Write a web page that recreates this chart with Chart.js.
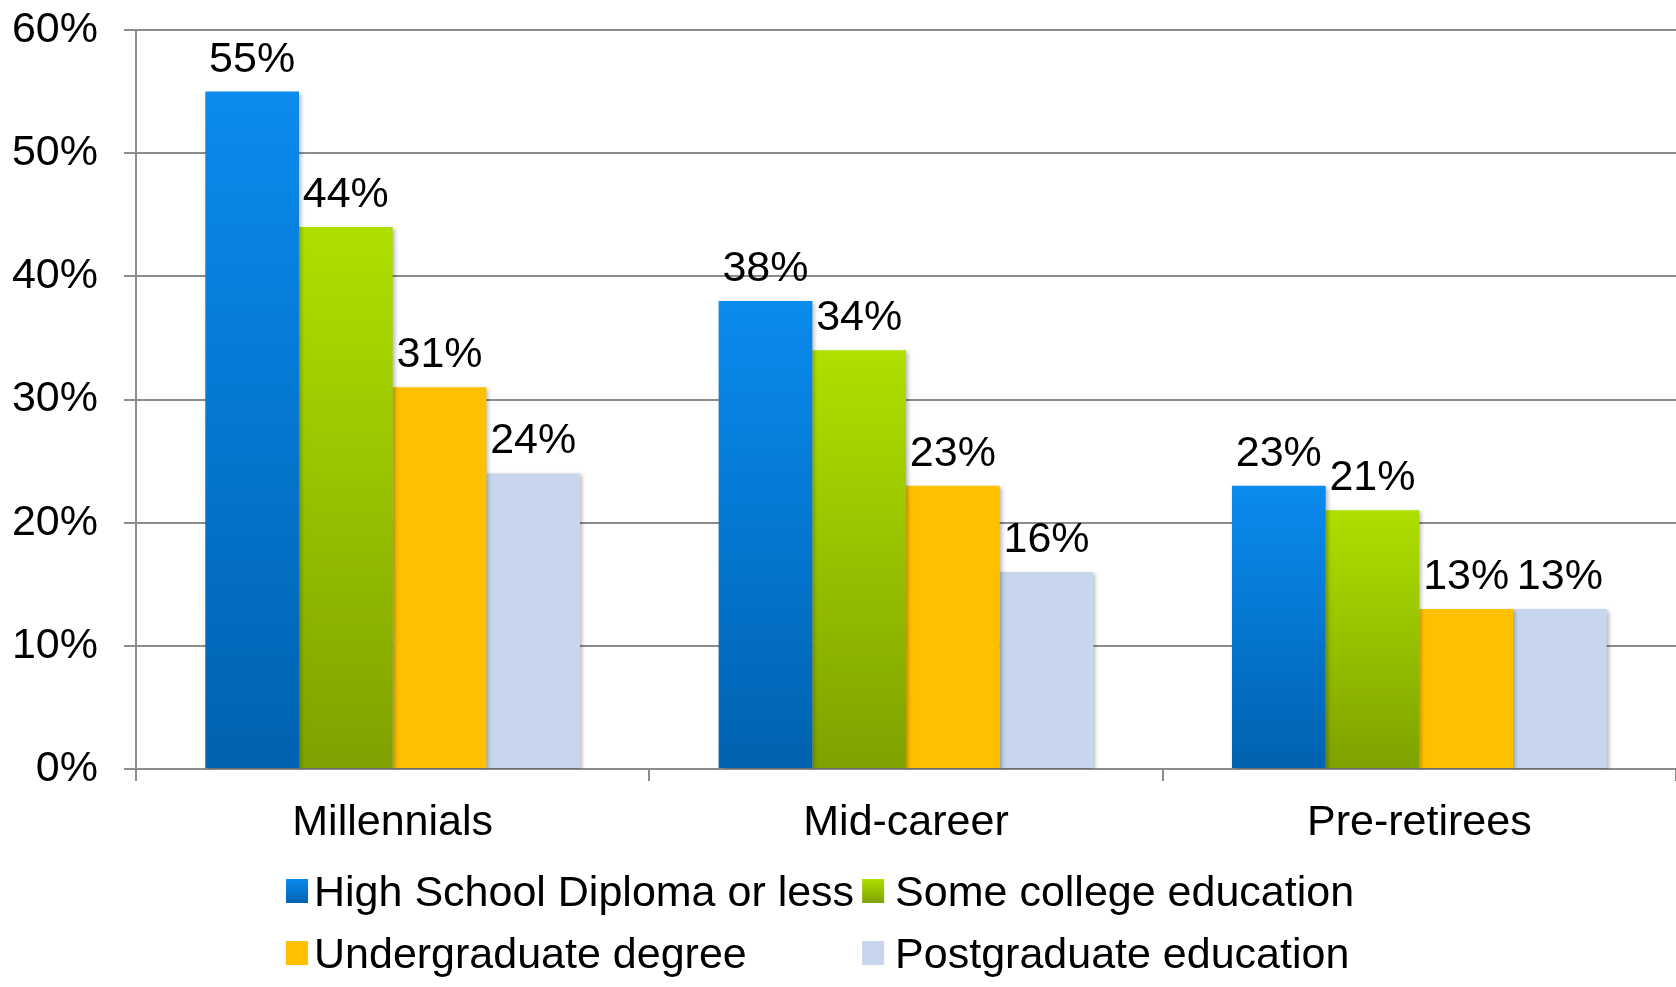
<!DOCTYPE html>
<html>
<head>
<meta charset="utf-8">
<title>Education level by career stage</title>
<script src="https://cdn.jsdelivr.net/npm/chart.js@4/dist/chart.umd.min.js"></script>
<style>
  html, body { margin: 0; padding: 0; background: #fff; }
</style>
</head>
<body>
<canvas id="bar-chart" width="1676" height="987"></canvas>
<script>
// categories, series and y tick values
const groups = ["Millennials", "Mid-career", "Pre-retirees"];
const seriesNames = ["High School Diploma or less", "Some college education", "Undergraduate degree", "Postgraduate education"];
const highSchool = [55, 38, 23];
const someCollege = [44, 34, 21];
const undergrad = [31, 23, 13];
const postgrad = [24, 16, 13];
const yTicks = [0, 10, 20, 30, 40, 50, 60];

// top and bottom colour of each series (flat fills use the same colour twice)
const fills = [
  ["#0a8bee", "#0062b0"],
  ["#aee000", "#7ea200"],
  ["#ffc000", "#ffc000"],
  ["#c7d6ec", "#c7d6ec"]
];
const FAMILY = '"Liberation Sans", Arial, sans-serif';
const FONT = "43px " + FAMILY;
const AXIS_GREY = "#8c8c8c";

function barFill(i) {
  return function (ctx) {
    const chart = ctx.chart;
    if (!chart.chartArea || ctx.type !== "data") return fills[i][0];
    const y = chart.scales.y;
    const g = chart.ctx.createLinearGradient(0, y.getPixelForValue(ctx.raw), 0, y.getPixelForValue(0));
    g.addColorStop(0, fills[i][0]);
    g.addColorStop(1, fills[i][1]);
    return g;
  };
}

// soft drop shadow under the bars
const barShadow = {
  id: "barShadow",
  beforeDatasetsDraw(chart) {
    const c = chart.ctx;
    c.save();
    c.shadowColor = "rgba(0,0,0,0.28)";
    c.shadowBlur = 4;
    c.shadowOffsetX = 2;
    c.shadowOffsetY = 2;
  },
  afterDatasetsDraw(chart) {
    chart.ctx.restore();
  }
};

// percentage written above every bar
const valueLabels = {
  id: "valueLabels",
  afterDatasetsDraw(chart) {
    const c = chart.ctx;
    c.save();
    c.font = FONT;
    c.fillStyle = "#000";
    c.textAlign = "center";
    c.textBaseline = "alphabetic";
    chart.data.datasets.forEach(function (ds, i) {
      chart.getDatasetMeta(i).data.forEach(function (bar, j) {
        c.fillText(ds.data[j] + "%", bar.x, bar.y - 20);
      });
    });
    c.restore();
  }
};

// two-column legend under the axis
const gridLegend = {
  id: "gridLegend",
  afterDraw(chart) {
    const c = chart.ctx;
    const ds = chart.data.datasets;
    c.save();
    c.font = FONT;
    const box = 22, left = 286, baselines = [906, 968];
    const col1 = Math.max(c.measureText(ds[0].label).width, c.measureText(ds[2].label).width);
    const cols = [left, left + box + 6 + col1 + 8];
    ds.forEach(function (d, i) {
      const x = cols[i % 2], base = baselines[Math.floor(i / 2)];
      const gap = i % 2 ? 11 : 6;
      const g = c.createLinearGradient(0, base - 27, 0, base - 3);
      g.addColorStop(0, fills[i][0]);
      g.addColorStop(1, fills[i][1]);
      c.fillStyle = g;
      c.fillRect(x, base - 27, box, 24);
      c.fillStyle = "#000";
      c.textAlign = "left";
      c.textBaseline = "alphabetic";
      c.fillText(d.label, x + box + gap, base);
    });
    c.restore();
  }
};

const seriesData = [highSchool, someCollege, undergrad, postgrad];

new Chart(document.getElementById("bar-chart"), {
  type: "bar",
  data: {
    labels: groups,
    datasets: seriesNames.map(function (name, i) {
      return {
        label: name,
        data: seriesData[i],
        backgroundColor: barFill(i),
        borderWidth: 0,
        barPercentage: 1,
        categoryPercentage: 0.73
      };
    })
  },
  options: {
    responsive: false,
    animation: false,
    layout: { padding: { top: 30, bottom: 143, left: 0, right: 0 } },
    plugins: {
      legend: { display: false },
      tooltip: { enabled: false }
    },
    scales: {
      x: {
        grid: { offset: true, drawOnChartArea: false, drawTicks: true, tickLength: 12, color: AXIS_GREY, lineWidth: 2 },
        border: { color: AXIS_GREY, width: 2 },
        ticks: { font: { family: FAMILY, size: 43 }, color: "#000", padding: 16 },
        afterFit: function (s) { s.height = 75; }
      },
      y: {
        min: 0,
        max: 60,
        afterBuildTicks: function (s) { s.ticks = yTicks.map(function (v) { return { value: v }; }); },
        ticks: {
          font: { family: FAMILY, size: 43 },
          color: "#000",
          padding: 26,
          callback: function (v) { return v + "%"; }
        },
        grid: { color: AXIS_GREY, lineWidth: 2, tickLength: 12 },
        border: { color: AXIS_GREY, width: 2 },
        afterFit: function (s) {
          s.width = 136;
          s.paddingTop = 0;
          s.paddingBottom = 0;
        }
      }
    }
  },
  plugins: [barShadow, valueLabels, gridLegend]
});
</script>
</body>
</html>
